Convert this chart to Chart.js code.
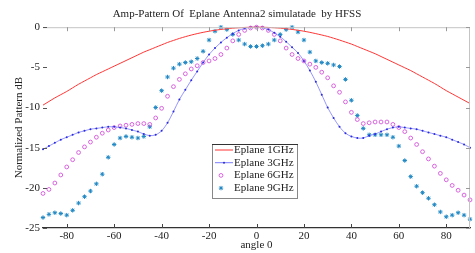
<!DOCTYPE html>
<html>
<head>
<meta charset="utf-8">
<script src="https://cdn.jsdelivr.net/npm/chart.js@4"></script>
<style>
  html, body { margin: 0; padding: 0; background: #fff; }
</style>
</head>
<body>
<canvas id="chart" width="475" height="253"></canvas>
<script>
const angles = [
  -90, -87.5, -85, -82.5, -80, -77.5, -75, -72.5, -70, -67.5, -65, -62.5,
  -60, -57.5, -55, -52.5, -50, -47.5, -45, -42.5, -40, -37.5, -35, -32.5,
  -30, -27.5, -25, -22.5, -20, -17.5, -15, -12.5, -10, -7.5, -5, -2.5,
  0, 2.5, 5, 7.5, 10, 12.5, 15, 17.5, 20, 22.5, 25, 27.5,
  30, 32.5, 35, 37.5, 40, 42.5, 45, 47.5, 50, 52.5, 55, 57.5,
  60, 62.5, 65, 67.5, 70, 72.5, 75, 77.5, 80, 82.5, 85, 87.5, 90
];

const eplane1GHz = [
  -9.7, -9.25, -8.8, -8.4, -8.0, -7.55, -7.1, -6.7, -6.3, -5.9, -5.55, -5.2,
  -4.85, -4.5, -4.15, -3.8, -3.45, -3.1, -2.8, -2.5, -2.2, -1.9, -1.65, -1.4,
  -1.18, -0.98, -0.8, -0.64, -0.5, -0.38, -0.28, -0.19, -0.12, -0.07, -0.03, -0.01,
  0, -0.01, -0.03, -0.07, -0.12, -0.19, -0.28, -0.38, -0.5, -0.64, -0.8, -0.97,
  -1.15, -1.37, -1.6, -1.85, -2.1, -2.4, -2.7, -3.0, -3.3, -3.65, -4.0, -4.35,
  -4.7, -5.05, -5.4, -5.8, -6.2, -6.6, -7.0, -7.45, -7.9, -8.3, -8.7, -9.1, -9.5
];

const eplane3GHz = [
  -15.2, -14.8, -14.4, -14.0, -13.7, -13.4, -13.1, -12.9, -12.7, -12.6, -12.5, -12.4,
  -12.4, -12.5, -12.6, -12.8, -13.0, -13.3, -13.5, -13.4, -12.9, -11.9, -10.5, -9.0,
  -7.8, -6.6, -5.5, -4.4, -3.4, -2.6, -1.9, -1.3, -0.8, -0.4, -0.15, -0.03,
  0, -0.05, -0.3, -0.7, -1.2, -1.8, -2.5, -3.2, -4.2, -5.4, -6.8, -8.4,
  -10.0, -11.3, -12.4, -13.2, -13.6, -13.8, -13.8, -13.5, -13.3, -13.0, -12.7, -12.5,
  -12.4, -12.5, -12.6, -12.7, -12.9, -13.1, -13.3, -13.5, -13.7, -14.0, -14.3, -14.6, -15.0
];

const eplane6GHz = [
  -20.7, -20.2, -19.4, -18.4, -17.4, -16.5, -15.6, -14.9, -14.3, -13.7, -13.2, -12.8,
  -12.5, -12.3, -12.2, -12.1, -12.0, -12.0, -12.1, -11.3, -10.1, -8.6, -7.4, -6.5,
  -5.8, -5.2, -4.8, -4.4, -4.2, -3.9, -3.4, -2.6, -1.7, -0.9, -0.4, -0.1,
  0, -0.1, -0.4, -0.9, -1.7, -2.6, -3.4, -3.9, -4.2, -4.6, -5.0, -5.6,
  -6.3, -7.3, -8.1, -9.3, -10.6, -11.5, -12.0, -11.9, -11.8, -11.8, -11.8, -12.1,
  -12.5, -13.0, -13.8, -14.6, -15.5, -16.4, -17.3, -18.2, -19.0, -19.7, -20.3, -20.9, -21.5
];

const eplane9GHz = [
  -23.7, -23.3, -23.1, -23.2, -23.4, -22.8, -21.9, -21.1, -20.4, -19.5, -18.3, -16.2,
  -14.6, -13.8, -13.6, -13.7, -13.8, -13.6, -12.4, -10.0, -7.9, -6.2, -5.1, -4.6,
  -4.4, -4.3, -3.9, -3.0, -1.6, -0.5, 0.0, -0.3, -0.9, -1.6, -2.1, -2.4,
  -2.4, -2.3, -2.1, -1.6, -0.9, -0.3, 0.0, -0.6, -1.6, -3.1, -4.2, -4.4,
  -4.5, -4.7, -4.9, -6.5, -9.1, -11.0, -12.6, -13.4, -13.4, -13.4, -13.4, -13.7,
  -14.8, -16.6, -18.6, -19.8, -20.6, -21.3, -22.1, -23.0, -23.6, -23.4, -23.1, -23.4, -23.9
];

const xTicks = [-80, -60, -40, -20, 0, 20, 40, 60, 80];
const yTicks = [0, -5, -10, -15, -20, -25];

const seriesNames = ["Eplane 1GHz", "Eplane 3GHz", "Eplane 6GHz", "Eplane 9GHz"];

const serif = "'Liberation Serif', 'DejaVu Serif', serif";

function toPoints(values) {
  return angles.map((a, i) => ({ x: a, y: values[i] }));
}

// box with inward ticks (matlab look) + legend inside the plot
const framePlugin = {
  id: "frame",
  afterDraw(chart) {
    const { ctx, chartArea: a, scales } = chart;
    ctx.save();
    ctx.lineWidth = 1;

    ctx.strokeStyle = "#c4c4c4";
    ctx.beginPath();
    ctx.moveTo(a.left, a.top + 0.5);
    ctx.lineTo(a.right - 0.5, a.top + 0.5);
    ctx.lineTo(a.right - 0.5, a.bottom);
    ctx.stroke();

    xTicks.forEach((v) => {
      const px = Math.round(scales.x.getPixelForValue(v)) + 0.5;
      ctx.strokeStyle = "#999";
      ctx.beginPath();
      ctx.moveTo(px, a.top);
      ctx.lineTo(px, a.top + 4);
      ctx.stroke();
      ctx.strokeStyle = "#444";
      ctx.beginPath();
      ctx.moveTo(px, a.bottom);
      ctx.lineTo(px, a.bottom - 4);
      ctx.stroke();
    });
    yTicks.forEach((v) => {
      const py = Math.round(scales.y.getPixelForValue(v)) + 0.5;
      ctx.strokeStyle = "#555";
      ctx.beginPath();
      ctx.moveTo(a.left, py);
      ctx.lineTo(a.left + 4, py);
      ctx.stroke();
      ctx.strokeStyle = "#999";
      ctx.beginPath();
      ctx.moveTo(a.right, py);
      ctx.lineTo(a.right - 4, py);
      ctx.stroke();
    });

    // legend
    const lx = 212, ly = 144, lw = 85, lh = 54;
    ctx.fillStyle = "#fff";
    ctx.fillRect(lx, ly, lw, lh);
    ctx.strokeStyle = "#888";
    ctx.strokeRect(lx + 0.5, ly + 0.5, lw, lh);
    ctx.strokeStyle = "#333";
    ctx.beginPath();
    ctx.moveTo(lx, ly + 0.5);
    ctx.lineTo(lx + lw + 1, ly + 0.5);
    ctx.stroke();

    ctx.font = "11px " + serif;
    ctx.textBaseline = "middle";
    ctx.textAlign = "left";
    chart.data.datasets.forEach((ds, i) => {
      const y = ly + 6 + i * 12.7;
      const hasLine = ds.showLine !== false;
      if (hasLine) {
        ctx.strokeStyle = ds.borderColor;
        ctx.lineWidth = 1;
        ctx.beginPath();
        ctx.moveTo(lx + 3, y);
        ctx.lineTo(lx + 21, y);
        ctx.stroke();
      }
      if (ds.pointRadius > 0) {
        ctx.fillStyle = ds.pointBackgroundColor;
        ctx.strokeStyle = ds.pointBorderColor;
        ctx.lineWidth = ds.pointBorderWidth;
        Chart.helpers.drawPoint(ctx, {
          pointStyle: ds.pointStyle,
          radius: ds.pointRadius,
          borderWidth: ds.pointBorderWidth,
          rotation: 0
        }, hasLine ? lx + 12 : lx + 9, y);
      }
      ctx.fillStyle = "#222";
      ctx.fillText(seriesNames[i], lx + 22, y);
    });
    ctx.restore();
  }
};

new Chart(document.getElementById("chart"), {
  type: "scatter",
  data: {
    datasets: [
      {
        label: seriesNames[0],
        data: toPoints(eplane1GHz),
        showLine: true,
        borderColor: "#ff3535",
        borderWidth: 1,
        pointRadius: 0,
        tension: 0.3
      },
      {
        label: seriesNames[1],
        data: toPoints(eplane3GHz),
        showLine: true,
        borderColor: "rgba(100,100,255,0.85)",
        borderWidth: 0.8,
        pointStyle: "circle",
        pointRadius: 1,
        pointBorderWidth: 0,
        pointBackgroundColor: "#2a2ae0",
        pointBorderColor: "#2a2ae0",
        tension: 0.3
      },
      {
        label: seriesNames[2],
        data: toPoints(eplane6GHz),
        showLine: false,
        pointStyle: "circle",
        pointRadius: 1.9,
        pointBorderWidth: 0.8,
        pointBackgroundColor: "rgba(255,255,255,0)",
        pointBorderColor: "#d040d8"
      },
      {
        label: seriesNames[3],
        data: toPoints(eplane9GHz),
        showLine: false,
        pointStyle: "star",
        pointRadius: 2.2,
        pointBorderWidth: 1,
        pointBackgroundColor: "#2088c4",
        pointBorderColor: "#2088c4"
      }
    ]
  },
  options: {
    responsive: false,
    animation: false,
    clip: false,
    layout: { padding: { left: 0, right: 1, top: 0, bottom: 0 } },
    plugins: {
      legend: { display: false },
      tooltip: { enabled: false },
      title: {
        display: true,
        text: "Amp-Pattern Of  Eplane Antenna2 simulatade  by HFSS",
        color: "#222",
        font: { family: serif, size: 11, weight: "normal" },
        padding: { top: 8, bottom: 6 }
      }
    },
    scales: {
      x: {
        type: "linear",
        min: -90,
        max: 90,
        afterBuildTicks: (scale) => {
          scale.ticks = xTicks.map((v) => ({ value: v }));
        },
        afterFit: (scale) => {
          scale.height = 25;
        },
        grid: { display: false, drawTicks: false },
        border: { display: true, color: "#333", width: 1.2 },
        ticks: {
          padding: 2,
          color: "#222",
          font: { family: serif, size: 11 },
          maxRotation: 0
        },
        title: {
          display: true,
          text: "angle 0",
          color: "#222",
          font: { family: serif, size: 11 },
          padding: { top: 0, bottom: 1 }
        }
      },
      y: {
        min: -25,
        max: 0,
        afterBuildTicks: (scale) => {
          scale.ticks = yTicks.map((v) => ({ value: v }));
        },
        afterFit: (scale) => {
          scale.width = 43;
        },
        grid: { display: false, drawTicks: false },
        border: { display: false },
        ticks: {
          padding: 3,
          color: "#222",
          font: { family: serif, size: 11 }
        },
        title: {
          display: true,
          text: "Normalized Pattern dB",
          color: "#222",
          font: { family: serif, size: 11 },
          padding: { top: 13, bottom: 0 }
        }
      }
    }
  },
  plugins: [framePlugin]
});
</script>
</body>
</html>
